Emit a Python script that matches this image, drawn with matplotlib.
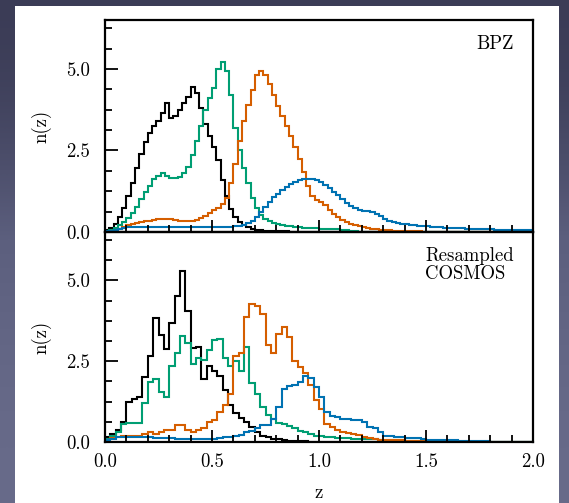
import numpy as np
import matplotlib
matplotlib.use("Agg")
import matplotlib.pyplot as plt
from matplotlib.patches import Rectangle
from matplotlib.colors import LinearSegmentedColormap
from matplotlib.ticker import AutoMinorLocator

# BPZ n(z), bins of 0.02 from 0 to 2
bpz_edges = np.linspace(0.0, 2.0, 101)
bpz_black = [
    0.05, 0.12, 0.25, 0.45, 0.75, 1.10, 1.50, 1.95, 2.40, 2.75,
    3.05, 3.25, 3.40, 3.65, 3.95, 3.50, 3.55, 3.75, 3.95, 4.15,
    4.45, 4.25, 3.80, 3.30, 2.95, 2.60, 2.20, 1.60, 1.10, 0.70,
    0.45, 0.32, 0.22, 0.15, 0.10, 0.07, 0.05, 0.04, 0.03, 0.03,
    0.02, 0.02, 0.02, 0.01, 0.01, 0.01, 0.01, 0.01, 0.01, 0.01,
    0.01, 0.01, 0.01, 0.01, 0.01, 0.00, 0.00, 0.00, 0.00, 0.00,
    0.00, 0.00, 0.00, 0.00, 0.00, 0.00, 0.00, 0.00, 0.00, 0.00,
    0.00, 0.00, 0.00, 0.00, 0.00, 0.00, 0.00, 0.00, 0.00, 0.00,
    0.00, 0.00, 0.00, 0.00, 0.00, 0.00, 0.00, 0.00, 0.00, 0.00,
    0.00, 0.00, 0.00, 0.00, 0.00, 0.00, 0.00, 0.00, 0.00, 0.00,
]
bpz_green = [
    0.02, 0.06, 0.12, 0.20, 0.30, 0.42, 0.58, 0.78, 1.00, 1.22,
    1.42, 1.62, 1.72, 1.80, 1.72, 1.65, 1.67, 1.70, 1.80, 2.00,
    2.35, 2.80, 3.25, 3.75, 4.10, 4.40, 5.00, 5.22, 4.95, 4.20,
    3.20, 2.50, 1.95, 1.50, 1.05, 0.75, 0.52, 0.40, 0.33, 0.28,
    0.24, 0.21, 0.19, 0.17, 0.15, 0.14, 0.13, 0.12, 0.12, 0.11,
    0.10, 0.10, 0.09, 0.09, 0.08, 0.07, 0.05, 0.03, 0.02, 0.01,
    0.01, 0.01, 0.01, 0.00, 0.00, 0.00, 0.00, 0.00, 0.00, 0.00,
    0.00, 0.00, 0.00, 0.00, 0.00, 0.00, 0.00, 0.00, 0.00, 0.00,
    0.00, 0.00, 0.00, 0.00, 0.00, 0.00, 0.00, 0.00, 0.00, 0.00,
    0.00, 0.00, 0.00, 0.00, 0.00, 0.00, 0.00, 0.00, 0.00, 0.00,
]
bpz_orange = [
    0.01, 0.03, 0.06, 0.10, 0.15, 0.20, 0.24, 0.27, 0.30, 0.33,
    0.35, 0.37, 0.39, 0.40, 0.41, 0.40, 0.36, 0.35, 0.34, 0.34,
    0.34, 0.36, 0.42, 0.50, 0.58, 0.66, 0.75, 0.85, 1.05, 1.50,
    2.10, 2.80, 3.40, 3.90, 4.35, 4.80, 4.95, 4.80, 4.55, 4.20,
    3.85, 3.55, 3.25, 2.95, 2.60, 2.25, 1.85, 1.40, 1.10, 0.98,
    0.92, 0.82, 0.68, 0.55, 0.45, 0.36, 0.30, 0.25, 0.20, 0.17,
    0.14, 0.12, 0.10, 0.08, 0.07, 0.06, 0.05, 0.04, 0.04, 0.03,
    0.03, 0.02, 0.02, 0.02, 0.01, 0.01, 0.01, 0.01, 0.01, 0.01,
    0.00, 0.00, 0.00, 0.00, 0.00, 0.00, 0.00, 0.00, 0.00, 0.00,
    0.00, 0.00, 0.00, 0.00, 0.00, 0.00, 0.00, 0.00, 0.00, 0.00,
]
bpz_blue = [
    0.02, 0.04, 0.07, 0.10, 0.12, 0.14, 0.15, 0.16, 0.16, 0.16,
    0.16, 0.16, 0.16, 0.16, 0.16, 0.15, 0.15, 0.15, 0.15, 0.15,
    0.15, 0.15, 0.15, 0.15, 0.15, 0.15, 0.15, 0.16, 0.16, 0.16,
    0.17, 0.19, 0.22, 0.27, 0.33, 0.45, 0.60, 0.78, 0.93, 1.06,
    1.18, 1.28, 1.38, 1.46, 1.53, 1.58, 1.61, 1.63, 1.62, 1.58,
    1.52, 1.44, 1.35, 1.24, 1.12, 1.00, 0.90, 0.81, 0.74, 0.68,
    0.64, 0.65, 0.62, 0.55, 0.48, 0.40, 0.34, 0.30, 0.28, 0.26,
    0.24, 0.22, 0.21, 0.19, 0.18, 0.17, 0.16, 0.15, 0.14, 0.13,
    0.12, 0.12, 0.11, 0.11, 0.10, 0.10, 0.09, 0.09, 0.08, 0.08,
    0.08, 0.07, 0.07, 0.07, 0.06, 0.06, 0.06, 0.05, 0.05, 0.05,
]

# Resampled COSMOS n(z), bins of 0.025 from 0 to 2
cosmos_edges = np.linspace(0.0, 2.0, 81)
cosmos_black = [
    0.16, 0.24, 0.36, 0.62, 1.24, 1.34, 1.40, 2.00, 2.67, 3.84,
    3.32, 2.87, 3.69, 4.51, 5.28, 4.07, 2.92, 2.94, 1.95, 2.36,
    2.20, 2.05, 1.60, 1.15, 0.90, 0.73, 0.62, 0.47, 0.30, 0.20,
    0.16, 0.10, 0.08, 0.05, 0.04, 0.03, 0.02, 0.02, 0.01, 0.01,
    0.01, 0.01, 0.00, 0.00, 0.00, 0.00, 0.00, 0.00, 0.00, 0.00,
    0.00, 0.00, 0.00, 0.00, 0.00, 0.00, 0.00, 0.00, 0.00, 0.00,
    0.00, 0.00, 0.00, 0.00, 0.00, 0.00, 0.00, 0.00, 0.00, 0.00,
    0.00, 0.00, 0.00, 0.00, 0.00, 0.00, 0.00, 0.00, 0.00, 0.00,
]
cosmos_green = [
    0.08, 0.20, 0.32, 0.55, 0.58, 0.58, 0.60, 1.20, 1.85, 1.95,
    1.55, 1.40, 2.35, 2.75, 3.28, 3.05, 2.40, 2.60, 2.55, 2.85,
    3.15, 3.20, 2.60, 2.35, 2.50, 2.20, 2.94, 1.82, 1.50, 1.08,
    0.85, 0.72, 0.60, 0.55, 0.50, 0.42, 0.35, 0.30, 0.25, 0.20,
    0.18, 0.15, 0.15, 0.12, 0.12, 0.11, 0.10, 0.10, 0.09, 0.08,
    0.08, 0.07, 0.06, 0.06, 0.05, 0.05, 0.04, 0.04, 0.03, 0.03,
    0.02, 0.02, 0.02, 0.01, 0.01, 0.01, 0.00, 0.00, 0.00, 0.00,
    0.00, 0.00, 0.00, 0.00, 0.00, 0.00, 0.00, 0.00, 0.00, 0.00,
]
cosmos_orange = [
    0.06, 0.11, 0.16, 0.18, 0.18, 0.18, 0.20, 0.26, 0.31, 0.26,
    0.31, 0.37, 0.37, 0.52, 0.52, 0.37, 0.31, 0.37, 0.42, 0.62,
    0.67, 0.93, 1.14, 1.50, 2.67, 2.77, 3.87, 4.27, 4.20, 3.95,
    3.00, 2.77, 3.34, 3.55, 3.25, 2.50, 2.31, 2.15, 1.75, 1.29,
    1.02, 0.57, 0.45, 0.37, 0.32, 0.27, 0.24, 0.21, 0.17, 0.11,
    0.09, 0.06, 0.06, 0.06, 0.06, 0.05, 0.04, 0.03, 0.03, 0.03,
    0.02, 0.02, 0.01, 0.01, 0.01, 0.00, 0.00, 0.00, 0.00, 0.00,
    0.00, 0.00, 0.00, 0.00, 0.00, 0.00, 0.00, 0.00, 0.00, 0.00,
]
cosmos_blue = [
    0.05, 0.10, 0.14, 0.16, 0.17, 0.16, 0.15, 0.15, 0.14, 0.13,
    0.12, 0.12, 0.11, 0.10, 0.10, 0.09, 0.08, 0.08, 0.08, 0.09,
    0.10, 0.12, 0.14, 0.16, 0.19, 0.22, 0.32, 0.35, 0.42, 0.52,
    0.52, 0.72, 1.08, 1.65, 1.72, 1.75, 1.85, 2.05, 1.98, 1.70,
    1.39, 0.93, 0.80, 0.76, 0.72, 0.72, 0.69, 0.67, 0.62, 0.47,
    0.42, 0.32, 0.19, 0.18, 0.16, 0.16, 0.13, 0.13, 0.11, 0.10,
    0.06, 0.06, 0.05, 0.05, 0.05, 0.05, 0.04, 0.02, 0.02, 0.02,
    0.02, 0.02, 0.01, 0.01, 0.01, 0.01, 0.01, 0.01, 0.01, 0.01,
]

colors = ["#000000", "#009E73", "#D55E00", "#0072B2"]
panel_labels = ["BPZ", "Resampled\nCOSMOS"]
x_ticks = [0.0, 0.5, 1.0, 1.5, 2.0]
y_ticks = [0.0, 2.5, 5.0]

plt.rcParams["font.family"] = "serif"
plt.rcParams["font.serif"] = ["cmr10", "DejaVu Serif"]
plt.rcParams["mathtext.fontset"] = "cm"
plt.rcParams["axes.formatter.use_mathtext"] = True
plt.rcParams["font.size"] = 13.5

fig = plt.figure(figsize=(5.69, 5.03), dpi=100)

# slide-like dark backdrop, darker towards the top
bg = fig.add_axes([0, 0, 1, 1], zorder=-20)
bg_cmap = LinearSegmentedColormap.from_list("bg", ["#3a3b55", "#5c5f7e", "#686b8a"])
bg.imshow([[0.0], [0.55], [1.0]], cmap=bg_cmap, aspect="auto",
          interpolation="bicubic", extent=[0, 1, 0, 1], origin="upper")
bg.set_axis_off()
bg.add_patch(Rectangle((15 / 569, 0), 544 / 569, 497 / 503,
                       transform=bg.transAxes, facecolor="white", edgecolor="none"))

left, right = 105 / 569, 533 / 569
mid = 1 - 232 / 503
ax_top = fig.add_axes([left, mid, right - left, (1 - 20 / 503) - mid])
ax_bot = fig.add_axes([left, 1 - 442 / 503, right - left, mid - (1 - 442 / 503)])

panels = [
    (ax_top, bpz_edges, [bpz_black, bpz_green, bpz_orange, bpz_blue]),
    (ax_bot, cosmos_edges, [cosmos_black, cosmos_green, cosmos_orange, cosmos_blue]),
]

for (ax, edges, series), label in zip(panels, panel_labels):
    ax.patch.set_alpha(0)
    for vals, c in zip(series, colors):
        ax.stairs(vals, edges, color=c, lw=1.5, baseline=None)
    ax.set_xlim(0, 2.0)
    ax.set_ylim(0, 6.5)
    ax.set_xticks(x_ticks)
    ax.set_yticks(y_ticks)
    ax.xaxis.set_minor_locator(AutoMinorLocator(5))
    ax.yaxis.set_minor_locator(AutoMinorLocator(4))
    ax.tick_params(which="both", direction="in", top=False, right=False, width=1.3)
    ax.tick_params(which="major", length=9)
    ax.tick_params(which="minor", length=5)
    ax.tick_params(axis="y", which="major", pad=11)
    ax.tick_params(axis="x", which="major", pad=8)
    for sp in ax.spines.values():
        sp.set_linewidth(1.6)
    ax.set_ylabel("n(z)")
    ax.yaxis.set_label_coords(-0.125, 0.5)
    ax.yaxis.set_major_formatter(plt.FormatStrFormatter("%.1f"))
    ax.xaxis.set_major_formatter(plt.FormatStrFormatter("%.1f"))
    ax.text(0.955, 0.93, label, transform=ax.transAxes, ha="right", va="top",
            multialignment="left", linespacing=1.0)

ax_top.tick_params(labelbottom=False)
ax_bot.set_xlabel("z")
ax_bot.xaxis.set_label_coords(0.5, -0.2)

fig.savefig("out.png", dpi=100)
